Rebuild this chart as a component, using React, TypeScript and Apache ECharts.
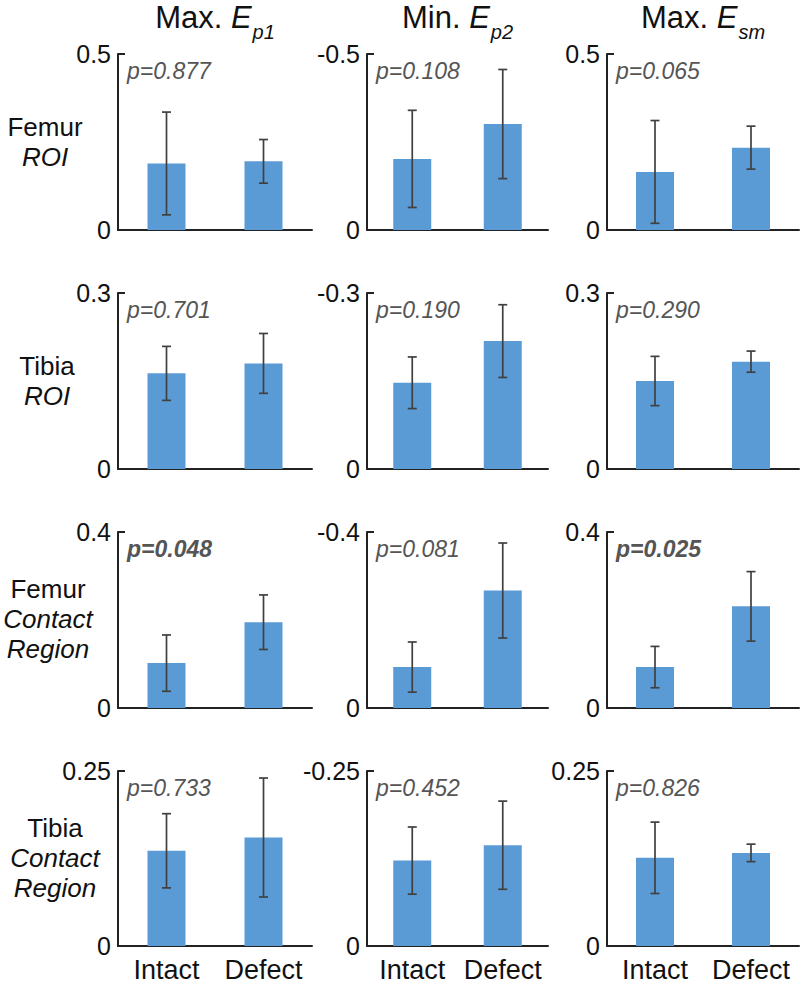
import React, { useEffect, useRef } from 'react';
import * as echarts from 'echarts';

// ---------- data ----------
const categories = ['Intact', 'Defect'];
const columnPrefixes = ['Max.', 'Min.', 'Max.'];
const columnSymbol = 'E';
const columnSubscripts = ['p1', 'p2', 'sm'];
const rowLabelLines = [
  ['Femur', 'ROI'],
  ['Tibia', 'ROI'],
  ['Femur', 'Contact', 'Region'],
  ['Tibia', 'Contact', 'Region'],
];
const axisLimits = [
  [0.5, -0.5, 0.5],
  [0.3, -0.3, 0.3],
  [0.4, -0.4, 0.4],
  [0.25, -0.25, 0.25],
];
const pValues = [
  ['0.877', '0.108', '0.065'],
  ['0.701', '0.190', '0.290'],
  ['0.048', '0.081', '0.025'],
  ['0.733', '0.452', '0.826'],
];

// means [column][Intact, Defect]
const femurRoiMeans = [[0.189, 0.195], [-0.202, -0.301], [0.165, 0.234]];
const femurRoiErrors = [[0.146, 0.062], [0.138, 0.155], [0.146, 0.061]];
const tibiaRoiMeans = [[0.163, 0.18], [-0.147, -0.218], [0.15, 0.183]];
const tibiaRoiErrors = [[0.046, 0.051], [0.044, 0.062], [0.042, 0.018]];
const femurContactMeans = [[0.102, 0.195], [-0.093, -0.267], [0.093, 0.231]];
const femurContactErrors = [[0.064, 0.062], [0.057, 0.108], [0.047, 0.079]];
const tibiaContactMeans = [[0.136, 0.155], [-0.122, -0.144], [0.126, 0.133]];
const tibiaContactErrors = [[0.053, 0.085], [0.048, 0.063], [0.051, 0.0125]];

const rowMeans = [femurRoiMeans, tibiaRoiMeans, femurContactMeans, tibiaContactMeans];
const rowErrors = [femurRoiErrors, tibiaRoiErrors, femurContactErrors, tibiaContactErrors];

// ---------- layout ----------
const FONT = '"Liberation Sans", Arial, Helvetica, sans-serif';
const gridLefts = [118, 367, 607];
const gridWidths = [194, 181, 192];
const gridTop0 = 54;
const rowStep = 239;
const gridHeight = 176;
const rowLabelCenters = [45, 47, 48, 55];
const BAR_COLOR = '#5B9BD5';
const AXIS_COLOR = '#222222';
const ERR_COLOR = '#404040';
const TEXT_COLOR = '#111111';

function measure(text: string, font: string): number {
  const c = document.createElement('canvas');
  const ctx = c.getContext('2d');
  if (!ctx) return text.length * 14;
  ctx.font = font;
  return ctx.measureText(text).width;
}

export default function App() {
  const ref = useRef<HTMLDivElement>(null);

  useEffect(() => {
    if (!ref.current) return;
    const chart = echarts.init(ref.current, undefined, { renderer: 'svg' });

    const grids: any[] = [];
    const xAxes: any[] = [];
    const yAxes: any[] = [];
    const series: any[] = [];
    const graphics: any[] = [];

    for (let r = 0; r < 4; r++) {
      for (let c = 0; c < 3; c++) {
        const idx = r * 3 + c;
        const top = gridTop0 + r * rowStep;
        grids.push({ left: gridLefts[c], top, width: gridWidths[c], height: gridHeight });
        xAxes.push({
          type: 'category',
          gridIndex: idx,
          data: categories,
          position: 'bottom',
          axisLine: { onZero: false, lineStyle: { color: AXIS_COLOR, width: 2 } },
          axisTick: { show: false },
          axisLabel: {
            show: r === 3,
            interval: 0,
            fontSize: 27,
            fontFamily: FONT,
            color: TEXT_COLOR,
            margin: 10,
          },
        });
        const lim = axisLimits[r][c];
        const neg = lim < 0;
        yAxes.push({
          type: 'value',
          gridIndex: idx,
          min: neg ? lim : 0,
          max: neg ? 0 : lim,
          interval: Math.abs(lim),
          inverse: neg,
          splitLine: { show: false },
          axisLine: { show: true, lineStyle: { color: AXIS_COLOR, width: 2 } },
          axisTick: { show: true, inside: true, length: 7, lineStyle: { color: AXIS_COLOR, width: 2 } },
          axisLabel: {
            fontSize: 25,
            fontFamily: FONT,
            color: TEXT_COLOR,
            margin: 7,
            showMinLabel: true,
            showMaxLabel: true,
          },
        });
        const means = rowMeans[r][c];
        const errs = rowErrors[r][c];
        series.push({
          type: 'bar',
          xAxisIndex: idx,
          yAxisIndex: idx,
          data: means,
          barWidth: 38,
          itemStyle: { color: BAR_COLOR },
          silent: true,
        });
        series.push({
          type: 'custom',
          xAxisIndex: idx,
          yAxisIndex: idx,
          z: 5,
          silent: true,
          data: means.map((m, i) => [i, m - errs[i], m + errs[i]]),
          encode: { x: 0, y: [1, 2] },
          renderItem: (params: any, api: any) => {
            const i = api.value(0);
            const hi = api.coord([i, api.value(2)]);
            const lo = api.coord([i, api.value(1)]);
            const half = 4.5;
            const style = { stroke: ERR_COLOR, lineWidth: 1.7 };
            return {
              type: 'group',
              children: [
                { type: 'line', shape: { x1: hi[0], y1: hi[1], x2: lo[0], y2: lo[1] }, style },
                { type: 'line', shape: { x1: hi[0] - half, y1: hi[1], x2: hi[0] + half, y2: hi[1] }, style },
                { type: 'line', shape: { x1: lo[0] - half, y1: lo[1], x2: lo[0] + half, y2: lo[1] }, style },
              ],
            };
          },
        });
        // p-value
        const pv = pValues[r][c];
        const bold = parseFloat(pv) < 0.05;
        graphics.push({
          type: 'text',
          x: gridLefts[c] + 9,
          y: top + 17,
          silent: true,
          style: {
            text: 'p=' + pv,
            fontSize: 23,
            fontStyle: 'italic',
            fontWeight: bold ? 'bold' : 'normal',
            fontFamily: FONT,
            fill: '#555555',
            align: 'left',
            verticalAlign: 'middle',
          },
        });
      }
      // row labels
      const lines = rowLabelLines[r];
      const mid = gridTop0 + r * rowStep + gridHeight / 2;
      const spacing = 30;
      lines.forEach((ln, k) => {
        const offset = (k - (lines.length - 1) / 2) * spacing + (lines.length === 2 ? 0 : -1);
        graphics.push({
          type: 'text',
          x: rowLabelCenters[r],
          y: mid + offset,
          silent: true,
          style: {
            text: ln,
            fontSize: 26,
            fontStyle: k === 0 ? 'normal' : 'italic',
            fontFamily: FONT,
            fill: TEXT_COLOR,
            align: 'center',
            verticalAlign: 'middle',
          },
        });
      });
    }

    // column titles
    for (let c = 0; c < 3; c++) {
      const pre = columnPrefixes[c] + ' ';
      const w1 = measure(pre, `31px ${FONT}`);
      const w2 = measure(columnSymbol, `italic 31px ${FONT}`);
      const w3 = measure(columnSubscripts[c], `italic 20px ${FONT}`);
      const total = w1 + w2 + 1 + w3;
      const center = gridLefts[c] + gridWidths[c] / 2;
      const x0 = center - total / 2;
      graphics.push({
        type: 'text', x: x0, y: 17, silent: true,
        style: { text: pre, fontSize: 31, fontFamily: FONT, fill: TEXT_COLOR, align: 'left', verticalAlign: 'middle' },
      });
      graphics.push({
        type: 'text', x: x0 + w1, y: 17, silent: true,
        style: { text: columnSymbol, fontSize: 31, fontStyle: 'italic', fontFamily: FONT, fill: TEXT_COLOR, align: 'left', verticalAlign: 'middle' },
      });
      graphics.push({
        type: 'text', x: x0 + w1 + w2 + 1, y: 32, silent: true,
        style: { text: columnSubscripts[c], fontSize: 20, fontStyle: 'italic', fontFamily: FONT, fill: TEXT_COLOR, align: 'left', verticalAlign: 'middle' },
      });
    }

    chart.setOption({
      animation: false,
      backgroundColor: '#ffffff',
      grid: grids,
      xAxis: xAxes,
      yAxis: yAxes,
      series,
      graphic: graphics,
    });

    return () => chart.dispose();
  }, []);

  return (
    <div
      ref={ref}
      style={{ position: 'fixed', left: 0, top: 0, width: 800, height: 983, background: '#fff' }}
    />
  );
}
